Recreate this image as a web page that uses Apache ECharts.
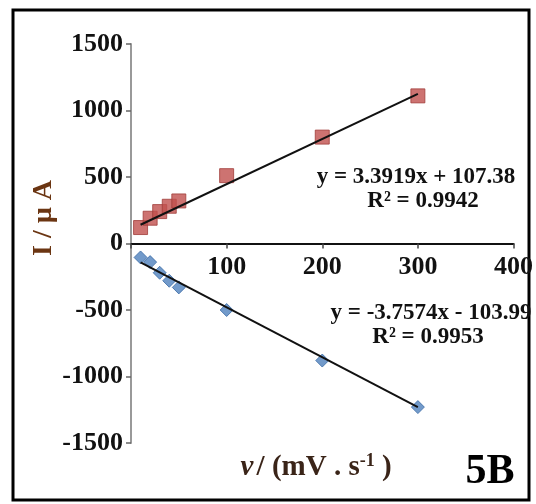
<!DOCTYPE html>
<html><head><meta charset="utf-8">
<script src="https://cdn.jsdelivr.net/npm/echarts@6/dist/echarts.min.js"></script>
<style>html,body{margin:0;padding:0;background:#fff}#c{width:536px;height:504px}</style>
</head><body><div id="c"></div>
<script>
var scanRates = [10, 20, 30, 40, 50, 100, 200, 300];
var anodicCurrent = [120, 190, 240, 280, 320, 510, 800, 1110];
var cathodicCurrent = [-105, -140, -220, -280, -330, -500, -880, -1230];
var anodicFit = [[10, 141], [300, 1125]];
var cathodicFit = [[10, -142], [300, -1231]];
var xTicks = [0, 100, 200, 300, 400];
var yTicks = [-1500, -1000, -500, 0, 500, 1000, 1500];

function pairs(xs, ys) { return xs.map(function (x, i) { return [x, ys[i]]; }); }

var gridTop = 44, gridBottom = 61, H = 504;
var plotH = H - gridTop - gridBottom;
var chart = echarts.init(document.getElementById('c'));
var font = '"Liberation Serif", "Times New Roman", serif';
chart.setOption({
  animation: false,
  backgroundColor: '#fff',
  grid: { left: 131, right: 18, top: gridTop, bottom: gridBottom },
  xAxis: {
    type: 'value', min: xTicks[0], max: xTicks[xTicks.length - 1], interval: 100,
    offset: -plotH / 2,
    axisLine: { onZero: false, lineStyle: { color: '#111', width: 2 } },
    axisTick: { show: true, length: 5, lineStyle: { color: '#444', width: 1.5 } },
    axisLabel: { fontFamily: font, fontWeight: 'bold', fontSize: 26, color: '#111', margin: 11,
      formatter: function (v) { return v === 0 ? '' : String(v); } },
    splitLine: { show: false }
  },
  yAxis: {
    type: 'value', min: yTicks[0], max: yTicks[yTicks.length - 1], interval: 500,
    axisLine: { show: true, onZero: false, lineStyle: { color: '#999', width: 2 } },
    axisTick: { show: true, length: 5, lineStyle: { color: '#666', width: 1.5 } },
    axisLabel: { fontFamily: font, fontWeight: 'bold', fontSize: 26, color: '#111', margin: 8,
      formatter: function (v) { return String(v); } },
    splitLine: { show: false }
  },
  series: [
    { type: 'scatter', data: pairs(scanRates, anodicCurrent), symbol: 'rect', symbolSize: 14,
      itemStyle: { color: '#c0504d', borderColor: '#a03c3a', borderWidth: 1 }, z: 3 },
    { type: 'scatter', data: pairs(scanRates, cathodicCurrent), symbol: 'diamond', symbolSize: 13,
      itemStyle: { color: '#4f81bd', borderColor: '#3a6aa5', borderWidth: 1 }, z: 3 },
    { type: 'line', data: anodicFit, symbol: 'none', lineStyle: { color: '#111', width: 2 }, z: 4 },
    { type: 'line', data: cathodicFit, symbol: 'none', lineStyle: { color: '#111', width: 2 }, z: 4 }
  ],
  graphic: [
    { type: 'rect', shape: { x: 13, y: 10, width: 516, height: 490 },
      style: { fill: 'none', stroke: '#000', lineWidth: 3 }, silent: true },
    { type: 'text', x: 44, y: 218, rotation: Math.PI / 2,
      style: { text: 'I / µ A', font: 'bold 28px ' + font, fill: '#6b3512', align: 'center', verticalAlign: 'middle' } },
    { type: 'text', x: 316, y: 468,
      style: { text: '{i|v} {n|/ (mV . s}{s|-1}{n| )}', align: 'center', verticalAlign: 'middle',
        rich: {
          i: { font: 'italic bold 29px ' + font, fill: '#3a2418' },
          n: { font: 'bold 29px ' + font, fill: '#3a2418' },
          s: { font: 'bold 18px ' + font, fill: '#3a2418', verticalAlign: 'top', padding: [0, 0, 13, 0] }
        } } },
    { type: 'text', x: 490, y: 472,
      style: { text: '5B', font: 'bold 42px ' + font, fill: '#000', align: 'center', verticalAlign: 'middle' } },
    { type: 'text', x: 416, y: 177,
      style: { text: 'y = 3.3919x + 107.38', font: 'bold 23px ' + font, fill: '#111', align: 'center', verticalAlign: 'middle' } },
    { type: 'text', x: 423, y: 201,
      style: { text: 'R² = 0.9942', font: 'bold 23px ' + font, fill: '#111', align: 'center', verticalAlign: 'middle' } },
    { type: 'text', x: 431, y: 313,
      style: { text: 'y = -3.7574x - 103.99', font: 'bold 23px ' + font, fill: '#111', align: 'center', verticalAlign: 'middle' } },
    { type: 'text', x: 428, y: 337,
      style: { text: 'R² = 0.9953', font: 'bold 23px ' + font, fill: '#111', align: 'center', verticalAlign: 'middle' } }
  ]
});
</script></body></html>
